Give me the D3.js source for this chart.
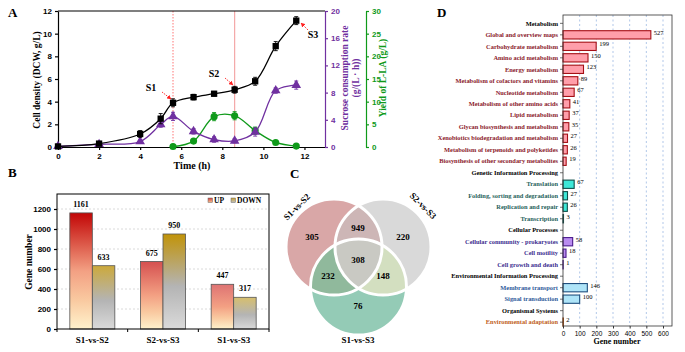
<!DOCTYPE html>
<html>
<head>
<meta charset="utf-8">
<script src="https://cdn.jsdelivr.net/npm/d3@7"></script>
<style>
  body { margin: 0; background: #fff; }
  svg { font-family: "Liberation Serif", "Times New Roman", serif; display: block; }
  .axis text { font-weight: bold; }
</style>
</head>
<body>
<div id="chart"></div>
<script>
// ---------- Data ----------
// Panel A: fermentation time course
const time = [0, 2, 4, 5, 5.6, 6.6, 7.6, 8.6, 9.6, 10.6, 11.6];
const dcw = [0.05, 0.3, 1.15, 2.5, 3.9, 4.4, 4.7, 5.05, 5.8, 8.9, 11.15];
const dcwErr = [0.05, 0.1, 0.3, 0.45, 0.35, 0.25, 0.2, 0.3, 0.35, 0.4, 0.35];
const sucrose = [0.1, 0.4, 0.8, 3.3, 4.5, 2.3, 1.1, 0.9, 2.2, 8.3, 9.1];
const sucroseErr = [0.05, 0.15, 0.2, 0.4, 0.6, 0.4, 0.4, 0.3, 0.6, 0.4, 0.6];
const llaTime = [5.6, 6.6, 7.6, 8.6, 9.6, 10.6, 11.6];
const lla = [0.1, 1.3, 6.7, 6.9, 3.6, 1.0, 0.2];
const llaErr = [0.1, 0.4, 0.9, 0.9, 0.8, 0.3, 0.1];
const samplePoints = ["S1", "S2", "S3"];
const sampleTimes = [5.6, 8.6, 11.6];

// Panel B: DEGs
const comparisons = ["S1-vs-S2", "S2-vs-S3", "S1-vs-S3"];
const upGenes = [1161, 675, 447];
const downGenes = [633, 950, 317];

// Panel C: Venn counts
const vennSets = ["S1-vs-S2", "S2-vs-S3", "S1-vs-S3"];
const vennOnly = [305, 220, 76];
const venn12 = 949, venn13 = 232, venn23 = 148, venn123 = 308;

// Panel D: KEGG classification
const keggGroups = ["Metabolism", "Genetic Information Processing", "Cellular Processes",
  "Environmental Information Processing", "Organismal Systems"];
const keggTerms = [
  "Global and overview maps", "Carbohydrate metabolism", "Amino acid metabolism", "Energy metabolism",
  "Metabolism of cofactors and vitamins", "Nucleotide metabolism", "Metabolism of other amino acids",
  "Lipid metabolism", "Glycan biosynthesis and metabolism", "Xenobiotics biodegradation and metabolism",
  "Metabolism of terpenoids and polyketides", "Biosynthesis of other secondary metabolites",
  "Translation", "Folding, sorting and degradation", "Replication and repair", "Transcription",
  "Cellular community - prokaryotes", "Cell motility", "Cell growth and death",
  "Membrane transport", "Signal transduction",
  "Environmental adaptation"
];
const keggCounts = [527, 199, 150, 123, 89, 67, 41, 37, 35, 27, 26, 19, 67, 27, 26, 3, 58, 18, 1, 146, 100, 2];
const keggTermGroup = [0, 0, 0, 0, 0, 0, 0, 0, 0, 0, 0, 0, 1, 1, 1, 1, 2, 2, 2, 3, 3, 4];

// ---------- Setup ----------
const W = 685, H = 352;
const svg = d3.select("#chart").append("svg").attr("width", W).attr("height", H);

const panelLetter = (x, y, t) => svg.append("text")
  .attr("x", x).attr("y", y).attr("font-size", 13).attr("font-weight", "bold").text(t);

// ---------- Panel A ----------
panelLetter(8, 17, "A");
const gA = svg.append("g");
const xA = d3.scaleLinear().domain([0, 13]).range([58, 325]);
const yA = d3.scaleLinear().domain([0, 12]).range([147, 11]);
const ySuc = d3.scaleLinear().domain([0, 20]).range([147, 11]);
const yLla = d3.scaleLinear().domain([0, 30]).range([147, 11]);
const purple = "#7030a0", green = "#0f9a1a";

// sample lines
gA.append("line").attr("x1", xA(sampleTimes[0])).attr("x2", xA(sampleTimes[0]))
  .attr("y1", 11).attr("y2", 147).attr("stroke", "#ff5050").attr("stroke-width", 0.8).attr("stroke-dasharray", "1.5,1.5");
gA.append("line").attr("x1", xA(sampleTimes[1])).attr("x2", xA(sampleTimes[1]))
  .attr("y1", 11).attr("y2", 147).attr("stroke", "#f4a8a8").attr("stroke-width", 1.2);

function axisStyle(g, color) {
  g.attr("class", "axis");
  g.selectAll("path, line").attr("stroke", color).attr("stroke-width", 1.2);
  g.selectAll("text").attr("fill", color).attr("font-size", 8);
}

gA.append("g").attr("transform", "translate(0,147)")
  .call(d3.axisBottom(xA).tickValues(d3.range(0, 13, 2)).tickSize(3).tickSizeOuter(0))
  .call(g => axisStyle(g, "#000"));
gA.append("g").attr("transform", "translate(58,0)")
  .call(d3.axisLeft(yA).tickValues(d3.range(0, 13, 2)).tickSize(3).tickSizeOuter(0))
  .call(g => axisStyle(g, "#000"));
gA.append("line").attr("x1", 58).attr("x2", 325).attr("y1", 11).attr("y2", 11)
  .attr("stroke", "#000").attr("stroke-width", 1.2);
gA.append("g").attr("transform", "translate(325,0)")
  .call(d3.axisRight(ySuc).tickValues(d3.range(0, 21, 4)).tickSize(3).tickSizeOuter(0))
  .call(g => axisStyle(g, purple));
gA.append("g").attr("transform", "translate(366,0)")
  .call(d3.axisRight(yLla).tickValues(d3.range(0, 31, 5)).tickSize(3).tickSizeOuter(0))
  .call(g => axisStyle(g, green));

gA.append("text").attr("x", 192).attr("y", 169).attr("text-anchor", "middle")
  .attr("font-size", 10).attr("font-weight", "bold").text("Time (h)");
gA.append("text").attr("transform", "translate(40,80) rotate(-90)").attr("text-anchor", "middle")
  .attr("font-size", 9.5).attr("font-weight", "bold").text("Cell density (DCW, g/L)");
gA.append("text").attr("transform", "translate(348,78) rotate(-90)").attr("text-anchor", "middle")
  .attr("font-size", 9.5).attr("font-weight", "bold").attr("fill", purple).text("Sucrose consumption rate");
gA.append("text").attr("transform", "translate(359,78) rotate(-90)").attr("text-anchor", "middle")
  .attr("font-size", 9.5).attr("font-weight", "bold").attr("fill", purple).text("(g/(L · h))");
gA.append("text").attr("transform", "translate(386,78) rotate(-90)").attr("text-anchor", "middle")
  .attr("font-size", 9.5).attr("font-weight", "bold").attr("fill", green).text("Yield of L-LA (g/L)");

function drawSeries(xs, ys, errs, yScale, color, symbol) {
  const pts = xs.map((x, i) => ({ x, y: ys[i], e: errs[i] }));
  const line = d3.line().x(d => xA(d.x)).y(d => yScale(d.y)).curve(d3.curveCatmullRom.alpha(0.5));
  gA.append("path").datum(pts).attr("d", line).attr("fill", "none")
    .attr("stroke", color).attr("stroke-width", 1.3);
  const eb = gA.append("g").attr("stroke", color).attr("stroke-width", 0.9);
  pts.forEach(d => {
    const cx = xA(d.x), y0 = yScale(d.y - d.e), y1 = yScale(d.y + d.e);
    eb.append("line").attr("x1", cx).attr("x2", cx).attr("y1", y0).attr("y2", y1);
    eb.append("line").attr("x1", cx - 2).attr("x2", cx + 2).attr("y1", y0).attr("y2", y0);
    eb.append("line").attr("x1", cx - 2).attr("x2", cx + 2).attr("y1", y1).attr("y2", y1);
  });
  gA.append("g").selectAll("path").data(pts).join("path")
    .attr("transform", d => `translate(${xA(d.x)},${yScale(d.y)})`)
    .attr("d", d3.symbol().type(symbol).size(40))
    .attr("fill", color);
}
drawSeries(llaTime, lla, llaErr, yLla, green, d3.symbolCircle);
drawSeries(time, sucrose, sucroseErr, ySuc, purple, d3.symbolTriangle);
drawSeries(time, dcw, dcwErr, yA, "#000", d3.symbolSquare);

// S1-S3 annotations
svg.append("defs").append("marker").attr("id", "arrowRed")
  .attr("viewBox", "0 0 10 10").attr("refX", 9).attr("refY", 5)
  .attr("markerWidth", 5).attr("markerHeight", 5).attr("orient", "auto")
  .append("path").attr("d", "M0,0L10,5L0,10z").attr("fill", "#ff2020");
const annot = [
  { label: [151, 91], from: [162, 92], to: [171, 99] },
  { label: [214, 77], from: [225, 78], to: [233, 85] },
  { label: [313, 38], from: [308, 30], to: [301, 23] }
];
annot.forEach((a, i) => {
  gA.append("text").attr("x", a.label[0]).attr("y", a.label[1]).attr("text-anchor", "middle")
    .attr("font-size", 10).attr("font-weight", "bold").text(samplePoints[i]);
  gA.append("line").attr("x1", a.from[0]).attr("y1", a.from[1]).attr("x2", a.to[0]).attr("y2", a.to[1])
    .attr("stroke", "#ff2020").attr("stroke-width", 0.9).attr("stroke-dasharray", "1.5,1")
    .attr("marker-end", "url(#arrowRed)");
});

// ---------- Panel B ----------
panelLetter(8, 177, "B");
const gB = svg.append("g");
const xB = d3.scaleBand().domain(comparisons).range([57, 269]);
const xSub = d3.scaleBand().domain(["UP", "DOWN"]).range([0, 45]);
const yB = d3.scaleLinear().domain([0, 1350]).range([329, 194]);

const defs = svg.select("defs");
const upTop = d3.scaleLinear().domain([400, 1200]).range(["#e07a7a", "#c00000"]);
const downTop = d3.scaleLinear().domain([300, 1000]).range(["#d8c070", "#bf9000"]);
function makeGrad(id, stops) {
  const g = defs.append("linearGradient").attr("id", id)
    .attr("x1", 0).attr("y1", 0).attr("x2", 0).attr("y2", 1);
  stops.forEach(([o, c]) => g.append("stop").attr("offset", o).attr("stop-color", c));
}
upGenes.forEach((v, i) => makeGrad("up" + i, [[0, upTop(v)], [0.5, "#f3a083"], [0.75, "#f9c9a0"], [1, "#fff2cc"]]));
downGenes.forEach((v, i) => makeGrad("down" + i, [[0, downTop(v)], [0.55, "#b4b4b4"], [1, "#dadada"]]));
makeGrad("upLeg", [[0, "#d04040"], [1, "#f8c090"]]);
makeGrad("downLeg", [[0, "#c8a030"], [1, "#c0c0c0"]]);

gB.append("g").selectAll("line").data(d3.range(200, 1201, 200)).join("line")
  .attr("x1", 57).attr("x2", 269).attr("y1", d => yB(d)).attr("y2", d => yB(d))
  .attr("stroke", "#d0d0d0").attr("stroke-width", 0.8).attr("stroke-dasharray", "2,2");

const barsB = [];
comparisons.forEach((c, i) => {
  barsB.push({ c, key: "UP", v: upGenes[i], fill: `url(#up${i})` });
  barsB.push({ c, key: "DOWN", v: downGenes[i], fill: `url(#down${i})` });
});
const bw = xSub.bandwidth();
gB.append("g").selectAll("rect").data(barsB).join("rect")
  .attr("x", d => xB(d.c) + xB.bandwidth() / 2 - 22.5 + xSub(d.key))
  .attr("y", d => yB(d.v)).attr("width", bw).attr("height", d => yB(0) - yB(d.v))
  .attr("fill", d => d.fill).attr("stroke", "#555").attr("stroke-width", 0.8);
gB.append("g").selectAll("text").data(barsB).join("text")
  .attr("x", d => xB(d.c) + xB.bandwidth() / 2 - 22.5 + xSub(d.key) + bw / 2)
  .attr("y", d => yB(d.v) - 6).attr("text-anchor", "middle")
  .attr("font-size", 8).attr("font-weight", "bold").text(d => d.v);

gB.append("rect").attr("x", 57).attr("y", 194).attr("width", 212).attr("height", 135)
  .attr("fill", "none").attr("stroke", "#000").attr("stroke-width", 1);
gB.append("g").attr("transform", "translate(57,0)")
  .call(d3.axisLeft(yB).tickValues(d3.range(0, 1201, 200)).tickFormat(d3.format("d")).tickSize(3).tickSizeOuter(0))
  .call(g => { axisStyle(g, "#000"); g.select(".domain").remove(); });
gB.append("g").selectAll("line").data([57, ...comparisons.map(c => xB(c) + xB.bandwidth())]).join("line")
  .attr("x1", d => d).attr("x2", d => d).attr("y1", 329).attr("y2", 332)
  .attr("stroke", "#000").attr("stroke-width", 1);
gB.append("g").selectAll("text").data(comparisons).join("text")
  .attr("x", d => xB(d) + xB.bandwidth() / 2).attr("y", 343).attr("text-anchor", "middle")
  .attr("font-size", 9).attr("font-weight", "bold").text(d => d);
gB.append("text").attr("transform", "translate(32,262) rotate(-90)").attr("text-anchor", "middle")
  .attr("font-size", 9.5).attr("font-weight", "bold").text("Gene number");

const legB = gB.append("g").attr("font-size", 7.5).attr("font-weight", "bold");
[["UP", "url(#upLeg)", 208], ["DOWN", "url(#downLeg)", 231]].forEach(([t, f, x]) => {
  legB.append("rect").attr("x", x).attr("y", 198).attr("width", 4.5).attr("height", 4.5)
    .attr("fill", f).attr("stroke", "#666").attr("stroke-width", 0.5);
  legB.append("text").attr("x", x + 6).attr("y", 203).text(t);
});

// ---------- Panel C ----------
panelLetter(290, 178, "C");
const gC = svg.append("g");
const r = 48;
const centers = [[334, 247], [383, 247], [358.5, 287]];
const vennFill = ["#d9a7a7", "#d9d9d9", "#94cbb6"];
const pairFill = { "01": "#cdb6b6", "02": "#90b99c", "12": "#d3dfc0" };
centers.forEach((c, i) => {
  defs.append("clipPath").attr("id", "vclip" + i)
    .append("circle").attr("cx", c[0]).attr("cy", c[1]).attr("r", r);
});
centers.forEach((c, i) => gC.append("circle").attr("cx", c[0]).attr("cy", c[1]).attr("r", r).attr("fill", vennFill[i]));
Object.entries(pairFill).forEach(([k, col]) => {
  const a = +k[0], b = +k[1];
  gC.append("g").attr("clip-path", `url(#vclip${a})`)
    .append("circle").attr("cx", centers[b][0]).attr("cy", centers[b][1]).attr("r", r).attr("fill", col);
});
gC.append("g").attr("clip-path", "url(#vclip0)")
  .append("g").attr("clip-path", "url(#vclip1)")
  .append("circle").attr("cx", centers[2][0]).attr("cy", centers[2][1]).attr("r", r).attr("fill", "#c9c9c3");
centers.forEach(c => gC.append("circle").attr("cx", c[0]).attr("cy", c[1]).attr("r", r)
  .attr("fill", "none").attr("stroke", "#fff").attr("stroke-width", 3));

const vennLabels = [
  [vennOnly[0], 312, 240], [venn12, 358, 231], [vennOnly[1], 403, 240],
  [venn123, 358, 263], [venn13, 328, 279], [venn23, 383, 279], [vennOnly[2], 358, 309]
];
gC.selectAll("text.num").data(vennLabels).join("text").attr("class", "num")
  .attr("x", d => d[1]).attr("y", d => d[2]).attr("text-anchor", "middle")
  .attr("font-size", 9).attr("font-weight", "bold").text(d => d[0]);
gC.append("text").attr("transform", "translate(299,209) rotate(-45)").attr("text-anchor", "middle")
  .attr("font-size", 9).attr("font-weight", "bold").text(vennSets[0]);
gC.append("text").attr("transform", "translate(421,208) rotate(45)").attr("text-anchor", "middle")
  .attr("font-size", 9).attr("font-weight", "bold").text(vennSets[1]);
gC.append("text").attr("x", 358).attr("y", 343).attr("text-anchor", "middle")
  .attr("font-size", 9).attr("font-weight", "bold").text(vennSets[2]);

// ---------- Panel D ----------
panelLetter(437, 17, "D");
const gD = svg.append("g");
const groupLabel = ["#8b1a2b", "#1f5f5b", "#3b2d8f", "#2e5a9a", "#c0601a"];
const groupFill = ["#ff9eaa", "#3ee8d8", "#b98cf0", "#aee4f8", "#f4b183"];
const groupStroke = ["#a50f15", "#0f4f4a", "#4b1b8f", "#1f4f7f", "#a04000"];

const rows = [];
keggGroups.forEach((g, gi) => {
  rows.push({ name: g, header: true, group: gi });
  keggTerms.forEach((t, i) => {
    if (keggTermGroup[i] === gi) rows.push({ name: t, header: false, group: gi, v: keggCounts[i] });
  });
});

const xD = d3.scaleLinear().domain([0, 654]).range([563, 672]);
const yD = d3.scaleBand().domain(rows.map(d => d.name)).range([17.6, 324.7]).paddingInner(0.28);
const step = yD.step();

gD.append("g").selectAll("line").data(d3.range(100, 601, 100)).join("line")
  .attr("x1", d => xD(d)).attr("x2", d => xD(d)).attr("y1", 15).attr("y2", 326)
  .attr("stroke", "#8fb0e0").attr("stroke-width", 0.7).attr("stroke-dasharray", "2,2.5");

const dataRows = rows.filter(d => !d.header);
gD.append("g").selectAll("rect").data(dataRows).join("rect")
  .attr("x", xD(0)).attr("y", d => yD(d.name) + (step * 0.28) / 2)
  .attr("width", d => xD(d.v) - xD(0)).attr("height", yD.bandwidth())
  .attr("fill", d => groupFill[d.group]).attr("stroke", d => groupStroke[d.group]).attr("stroke-width", 1.1);
gD.append("g").selectAll("text").data(dataRows).join("text")
  .attr("x", d => xD(d.v) + 3).attr("y", d => yD(d.name) + (step * 0.28) / 2 + 4)
  .attr("font-size", 6.5).text(d => d.v);

gD.append("rect").attr("x", 563).attr("y", 15).attr("width", 109).attr("height", 311)
  .attr("fill", "none").attr("stroke", "#333").attr("stroke-width", 0.8);
gD.append("g").selectAll("line").data(rows).join("line")
  .attr("x1", 560).attr("x2", 563)
  .attr("y1", d => yD(d.name) + step * 0.14 + yD.bandwidth() / 2)
  .attr("y2", d => yD(d.name) + step * 0.14 + yD.bandwidth() / 2)
  .attr("stroke", "#333").attr("stroke-width", 0.7);
gD.append("g").selectAll("text").data(rows).join("text")
  .attr("x", 558).attr("y", d => yD(d.name) + step * 0.14 + yD.bandwidth() / 2 + 2.2)
  .attr("text-anchor", "end").attr("font-size", 6.4).attr("font-weight", "bold")
  .attr("fill", d => d.header ? "#000" : groupLabel[d.group]).text(d => d.name);

gD.append("g").attr("transform", "translate(0,326)")
  .call(d3.axisBottom(xD).tickValues(d3.range(0, 601, 100)).tickSize(2.5).tickSizeOuter(0))
  .call(g => {
    g.select(".domain").remove();
    g.selectAll("line").attr("stroke", "#333");
    g.selectAll("text").attr("font-size", 6.5).attr("font-weight", "normal");
  });
gD.append("text").attr("x", 617).attr("y", 344).attr("text-anchor", "middle")
  .attr("font-size", 8).attr("font-weight", "bold").text("Gene number");
</script>
</body>
</html>
